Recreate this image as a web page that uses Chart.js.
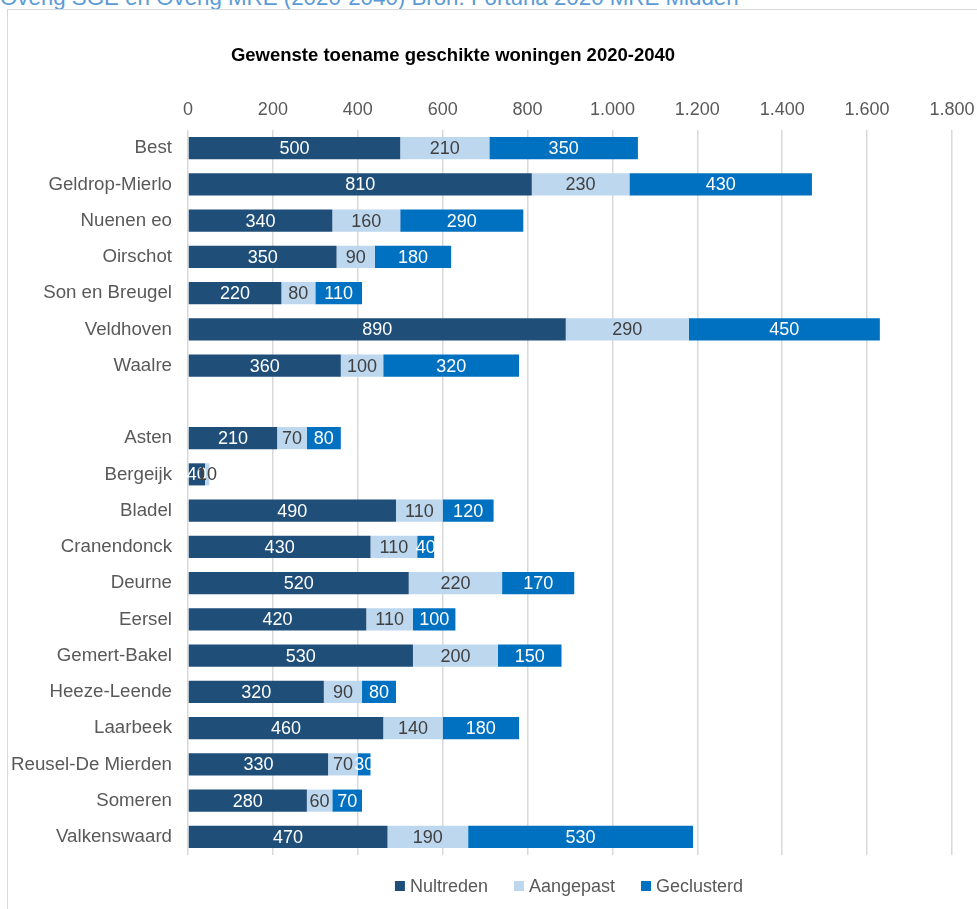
<!DOCTYPE html>
<html lang="nl">
<head>
<meta charset="UTF-8">
<title>Gewenste toename geschikte woningen 2020-2040</title>
<script src="https://cdn.jsdelivr.net/npm/chart.js"></script>
<style>
  html, body { margin: 0; padding: 0; background: #fff; overflow: hidden; }
  #wrap { position: relative; width: 977px; height: 909px; overflow: hidden; }
  #caption {
    position: absolute; left: 0; top: -13px; white-space: nowrap;
    font: 22.3px "Liberation Sans", Arial, sans-serif; line-height: 22px; color: #5b9bd5;
  }
  #frame {
    position: absolute; left: 7px; top: 9px; width: 1000px; height: 1000px;
    border: 1.5px solid #d9d9d9; box-sizing: border-box;
  }
  #c { position: absolute; left: 0; top: 0; }
</style>
</head>
<body>
<div id="wrap">
  <div id="caption">Overig SGE en Overig MRE (2020-2040) Bron: Fortuna 2020 MRE Midden</div>
  <div id="frame"></div>
  <canvas id="c" width="977" height="909"></canvas>
</div>
<script>
// data
const chartTitle = 'Gewenste toename geschikte woningen 2020-2040';
const categories = ['Best', 'Geldrop-Mierlo', 'Nuenen eo', 'Oirschot', 'Son en Breugel', 'Veldhoven', 'Waalre', '',
  'Asten', 'Bergeijk', 'Bladel', 'Cranendonck', 'Deurne', 'Eersel', 'Gemert-Bakel', 'Heeze-Leende',
  'Laarbeek', 'Reusel-De Mierden', 'Someren', 'Valkenswaard'];
const nultreden  = [500, 810, 340, 350, 220, 890, 360, null, 210, 40, 490, 430, 520, 420, 530, 320, 460, 330, 280, 470];
const aangepast  = [210, 230, 160,  90,  80, 290, 100, null,  70, 10, 110, 110, 220, 110, 200,  90, 140,  70,  60, 190];
const geclusterd = [350, 430, 290, 180, 110, 450, 320, null,  80,  0, 120,  40, 170, 100, 150,  80, 180,  30,  70, 530];
const seriesNames = ['Nultreden', 'Aangepast', 'Geclusterd'];
const seriesColors = ['#1f4e79', '#bdd7ee', '#0070c0'];
const labelColors = ['#ffffff', '#404040', '#ffffff'];
const xMin = 0, xMax = 1800, xStep = 200;

const FONT = '"Liberation Sans", Arial, sans-serif';
const SIZE = 18;

function fmt(v) {
  return String(v).replace(/\B(?=(\d{3})+(?!\d))/g, '.');
}

// title, legend and value labels drawn on the canvas
const textPlugin = {
  id: 'textPlugin',
  afterDatasetsDraw(chart) {
    const ctx = chart.ctx;
    ctx.save();
    ctx.textAlign = 'center';
    ctx.textBaseline = 'middle';
    ctx.font = SIZE + 'px ' + FONT;
    chart.data.datasets.forEach((ds, i) => {
      const meta = chart.getDatasetMeta(i);
      meta.data.forEach((bar, j) => {
        const v = ds.data[j];
        if (!v) return;
        ctx.fillStyle = labelColors[i];
        ctx.fillText(fmt(v), (bar.x + bar.base) / 2, bar.y + 1);
      });
    });
    ctx.restore();
  },
  afterDraw(chart) {
    const ctx = chart.ctx;
    ctx.save();
    // chart title
    ctx.fillStyle = '#000';
    ctx.font = 'bold 18.5px ' + FONT;
    ctx.textAlign = 'center';
    ctx.textBaseline = 'middle';
    ctx.fillText(chartTitle, 453, 56);

    // legend
    ctx.font = SIZE + 'px ' + FONT;
    ctx.textAlign = 'left';
    const box = 10, gap = 5, spacing = 26;
    const widths = seriesNames.map(n => box + gap + ctx.measureText(n).width);
    const total = widths.reduce((a, b) => a + b, 0) + spacing * (seriesNames.length - 1);
    let x = 569 - total / 2;
    const y = 886;
    seriesNames.forEach((n, i) => {
      ctx.fillStyle = seriesColors[i];
      ctx.fillRect(x, y - box / 2, box, box);
      ctx.fillStyle = '#595959';
      ctx.fillText(n, x + box + gap, y + 1);
      x += widths[i] + spacing;
    });
    ctx.restore();
  }
};

new Chart(document.getElementById('c'), {
  type: 'bar',
  data: {
    labels: categories,
    datasets: [
      { label: seriesNames[0], data: nultreden, backgroundColor: seriesColors[0] },
      { label: seriesNames[1], data: aangepast, backgroundColor: seriesColors[1] },
      { label: seriesNames[2], data: geclusterd, backgroundColor: seriesColors[2] }
    ]
  },
  options: {
    indexAxis: 'y',
    responsive: false,
    animation: false,
    events: [],
    barPercentage: 0.61,
    categoryPercentage: 1,
    layout: { padding: { left: 0, top: 0, right: 25, bottom: 54 } },
    plugins: {
      legend: { display: false },
      title: { display: false },
      tooltip: { enabled: false }
    },
    scales: {
      x: {
        position: 'top',
        stacked: true,
        min: xMin,
        max: xMax,
        afterFit(scale) {
          scale.height = 130;
          scale.paddingLeft = 0;
          scale.paddingRight = 0;
        },
        ticks: {
          stepSize: xStep,
          color: '#595959',
          font: { family: FONT, size: SIZE },
          padding: 9,
          maxRotation: 0,
          callback: v => fmt(v)
        },
        grid: { color: '#d9d9d9', lineWidth: 1.5, drawTicks: false },
        border: { display: false }
      },
      y: {
        stacked: true,
        afterFit(scale) { scale.width = 188; },
        ticks: {
          color: '#595959',
          font: { family: FONT, size: 18.7 },
          padding: 16,
          autoSkip: false
        },
        grid: { display: false, drawTicks: false },
        border: { display: false }
      }
    }
  },
  plugins: [textPlugin]
});
</script>
</body>
</html>
